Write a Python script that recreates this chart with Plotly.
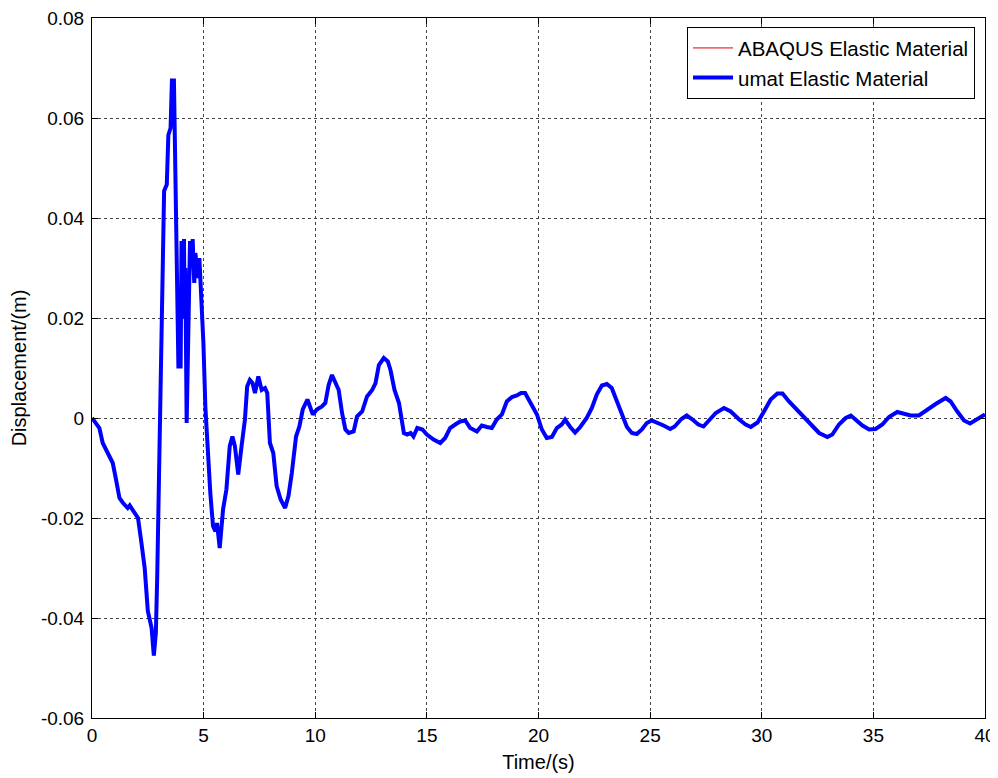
import plotly.graph_objects as go

# ---- data ----
time_s = [
    0.0, 0.33, 0.48, 0.78, 0.93, 1.08, 1.23, 1.39, 1.6, 1.69, 1.84, 2.06, 2.2, 2.36, 2.5,
    2.67, 2.77, 2.86, 2.92, 3.01, 3.07, 3.12, 3.17, 3.23, 3.35, 3.42, 3.52, 3.58, 3.67,
    3.73, 3.79, 3.87, 3.97, 4.01, 4.05, 4.08, 4.12, 4.15, 4.18, 4.24, 4.31, 4.36, 4.39,
    4.45, 4.51, 4.55, 4.58, 4.63, 4.69, 4.75, 4.81, 4.87, 4.99, 5.08, 5.18, 5.3, 5.42,
    5.53, 5.6, 5.72, 5.87, 6.02, 6.17, 6.29, 6.4, 6.55, 6.7, 6.85, 6.95, 7.07, 7.19, 7.3,
    7.45, 7.6, 7.75, 7.85, 7.97, 8.12, 8.27, 8.45, 8.65, 8.8, 8.95, 9.14, 9.29, 9.44,
    9.65, 9.77, 9.89, 10.07, 10.3, 10.45, 10.6, 10.75, 10.9, 11.05, 11.2, 11.35, 11.5,
    11.72, 11.87, 12.1, 12.32, 12.55, 12.7, 12.85, 13.07, 13.25, 13.37, 13.55, 13.75,
    13.97, 14.12, 14.27, 14.4, 14.57, 14.8, 15.0, 15.3, 15.6, 15.82, 16.04, 16.27, 16.49,
    16.72, 16.94, 17.24, 17.46, 17.69, 17.91, 18.13, 18.36, 18.58, 18.81, 19.03, 19.22,
    19.4, 19.63, 19.93, 20.15, 20.37, 20.6, 20.82, 21.04, 21.19, 21.42, 21.64, 21.87,
    22.16, 22.39, 22.61, 22.84, 23.06, 23.28, 23.51, 23.73, 23.96, 24.18, 24.4, 24.63,
    24.85, 25.07, 25.3, 25.6, 25.9, 26.1, 26.4, 26.64, 26.87, 27.16, 27.39, 27.69, 27.94,
    28.31, 28.61, 28.99, 29.28, 29.51, 29.81, 30.1, 30.4, 30.7, 30.93, 31.22, 31.6, 31.9,
    32.19, 32.57, 32.94, 33.16, 33.46, 33.76, 33.99, 34.21, 34.51, 34.81, 35.1, 35.4,
    35.7, 36.07, 36.37, 36.67, 37.04, 37.42, 37.79, 38.24, 38.46, 38.76, 39.06, 39.33,
    39.66, 40.0,
]
disp_m = [
    0.0, -0.002, -0.005, -0.0077, -0.009, -0.0124, -0.016, -0.017, -0.018, -0.0175,
    -0.0185, -0.02, -0.0245, -0.030, -0.0386, -0.042, -0.0475, -0.043, -0.032, -0.0105,
    0.0007, 0.0177, 0.0248, 0.0454, 0.0467, 0.0566, 0.058, 0.0675, 0.0675, 0.0513,
    0.031, 0.0103, 0.0103, 0.0354, 0.022, 0.035, 0.0358, 0.02, 0.03, -0.001, 0.018,
    0.028, 0.0354, 0.03, 0.0358, 0.03, 0.027, 0.033, 0.031, 0.028, 0.032, 0.027, 0.015,
    0.002, -0.0067, -0.015, -0.0216, -0.0227, -0.021, -0.026, -0.0183, -0.0143, -0.0056,
    -0.0037, -0.0056, -0.0113, -0.0056, -0.0003, 0.0063, 0.0076, 0.007, 0.005, 0.0083,
    0.0056, 0.006, 0.005, -0.005, -0.007, -0.0136, -0.0163, -0.018, -0.0156, -0.011,
    -0.0037, -0.0017, 0.0017, 0.0037, 0.0023, 0.0007, 0.0017, 0.0023, 0.003, 0.0066,
    0.0086, 0.007, 0.0056, 0.001, -0.0023, -0.003, -0.0027, 0.0003, 0.0013, 0.0043,
    0.0056, 0.007, 0.0106, 0.012, 0.0113, 0.0096, 0.0056, 0.003, -0.003, -0.0033, -0.003,
    -0.0037, -0.002, -0.0023, -0.0033, -0.0043, -0.005, -0.004, -0.002, -0.0013, -0.0007,
    -0.0005, -0.002, -0.0027, -0.0015, -0.0018, -0.002, -0.0003, 0.0007, 0.0033, 0.0042,
    0.0045, 0.005, 0.005, 0.0033, 0.0007, -0.0023, -0.004, -0.0038, -0.002, -0.0013,
    -0.0003, -0.0018, -0.0029, -0.0018, 0.0, 0.002, 0.0047, 0.0065, 0.0068, 0.006,
    0.0033, 0.001, -0.0018, -0.003, -0.0032, -0.0023, -0.001, -0.0005, -0.0009, -0.0015,
    -0.0022, -0.0017, -0.0002, 0.0005, -0.0002, -0.0013, -0.0017, -0.0003, 0.001, 0.002,
    0.0013, -0.0003, -0.0013, -0.0018, -0.0009, 0.0013, 0.0037, 0.0049, 0.0049, 0.0033,
    0.0015, 0.0003, -0.0013, -0.003, -0.0038, -0.0033, -0.0013, 0.0, 0.0005, -0.0003,
    -0.0015, -0.0023, -0.0022, -0.0013, 0.0002, 0.0012, 0.0009, 0.0005, 0.0005, 0.0017,
    0.0028, 0.004, 0.0033, 0.0013, -0.0005, -0.0011, -0.0003, 0.0007,
]

x_ticks = [0, 5, 10, 15, 20, 25, 30, 35, 40]
x_ticktext = ["0", "5", "10", "15", "20", "25", "30", "35", "40"]
y_ticks = [-0.06, -0.04, -0.02, 0, 0.02, 0.04, 0.06, 0.08]
y_ticktext = ["-0.06", "-0.04", "-0.02", "0", "0.02", "0.04", "0.06", "0.08"]

series_names = ["ABAQUS Elastic Material", "umat Elastic Material"]

FONT = "Liberation Sans, Arial, sans-serif"

fig = go.Figure()
fig.add_trace(go.Scatter(x=time_s, y=disp_m, mode="lines", name=series_names[0],
                         line=dict(color="#e00000", width=1)))
fig.add_trace(go.Scatter(x=time_s, y=disp_m, mode="lines", name=series_names[1],
                         line=dict(color="#0000ff", width=4)))

axis_common = dict(
    showline=True, linecolor="black", linewidth=1, mirror="ticks",
    ticks="inside", ticklen=6, tickcolor="black",
    showgrid=True, gridcolor="#444444", griddash="dot", gridwidth=1,
    zeroline=False, automargin=False, ticklabeloverflow="allow",
    tickfont=dict(family=FONT, size=19, color="black"),
)

fig.update_xaxes(range=[0, 40], tickvals=x_ticks, ticktext=x_ticktext,
                 title=dict(text="Time/(s)", font=dict(family=FONT, size=20, color="black"),
                            standoff=10),
                 **axis_common)
fig.update_yaxes(range=[-0.06, 0.08], tickvals=y_ticks, ticktext=y_ticktext,
                 ticklabelstandoff=3,
                 title=dict(text="Displacement/(m)", font=dict(family=FONT, size=20, color="black"),
                            standoff=8),
                 **axis_common)

# the page adds an 8 px body margin, so the figure is made 8 px smaller
fig.update_layout(
    width=990, height=770,
    margin=dict(l=84, r=13, t=10, b=60),
    paper_bgcolor="white", plot_bgcolor="white",
    font=dict(family=FONT, color="black"),
    showlegend=True,
    legend=dict(x=0.9888, y=0.987, xanchor="right", yanchor="top",
                bgcolor="white", bordercolor="black", borderwidth=1,
                font=dict(family=FONT, size=20.5, color="black"),
                itemwidth=40, tracegroupgap=0),
)

fig.write_html("out.html")
